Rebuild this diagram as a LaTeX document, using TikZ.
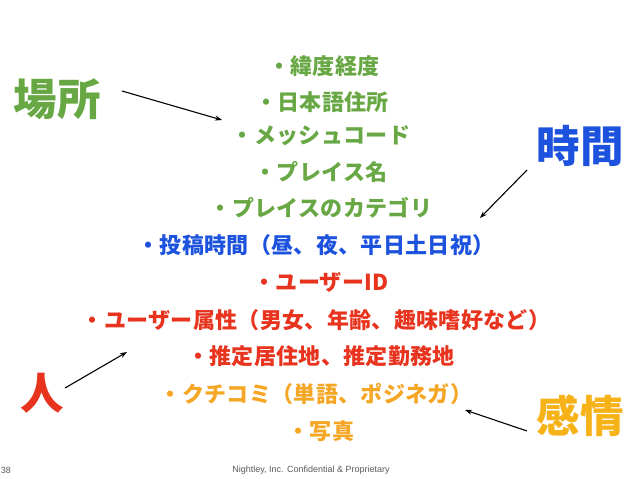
\documentclass[tikz,border=0pt]{standalone}
\usepackage{fontspec}
\newfontfamily\jp{Noto Sans CJK JP}
\newfontfamily\ft{Liberation Sans}
\usetikzlibrary{arrows.meta}
\definecolor{cgreen}{RGB}{104,168,68}
\definecolor{cblue}{RGB}{28,82,222}
\definecolor{cred}{RGB}{232,52,30}
\definecolor{corange}{RGB}{244,166,36}
\definecolor{cyellow}{RGB}{246,178,22}
\definecolor{cgray}{RGB}{90,90,90}
\tikzset{
  item/.style={inner sep=0pt, font=\jp\bfseries\fontsize{22}{23}\selectfont\addfontfeatures{LetterSpace=1.5}, anchor=center},
  big/.style={inner sep=0pt, font=\jp\bfseries\fontsize{43.5}{44}\selectfont, anchor=center},
  conn/.style={-{Stealth[length=7pt,width=5pt]}, line width=1.1pt, black},
  foot/.style={inner sep=0pt, font=\ft\fontsize{9}{10}\selectfont, text=cgray}
}
\begin{document}
\begin{tikzpicture}[x=1pt,y=-1pt]
\useasboundingbox (0,0) rectangle (638,479);
\fill[white] (0,0) rectangle (638,479);
% items
\node[item, text=cgreen] (i1) at (324,66) {・緯度経度};
\node[item, text=cgreen] (i2) at (322,102) {・日本語住所};
\node[item, text=cgreen] (i3) at (321,136) {・メッシュコード};
\node[item, text=cgreen] (i4) at (321,172) {・プレイス名};
\node[item, text=cgreen] (i5) at (321,208) {・プレイスのカテゴリ};
\node[item, text=cblue] (i6) at (316,245) {・投稿時間（昼、夜、平日土日祝）};
\node[item, text=cred] (i7) at (321,282) {・ユーザーID};
\node[item, text=cred] (i8) at (316,320) {・ユーザー属性（男女、年齢、趣味嗜好など）};
\node[item, text=cred] (i9) at (321,356) {・推定居住地、推定勤務地};
\node[item, text=corange] (i10) at (316,394) {・クチコミ（単語、ポジネガ）};
\node[item, text=corange] (i11) at (321,431) {・写真};
% big labels
\node[big, text=cgreen] (basho) at (57,99) {場所};
\node[big, text=cblue] (jikan) at (580,146) {時間};
\node[big, text=cred] (hito) at (42,393) {人};
\node[big, text=cyellow] (kanjo) at (580,416) {感情};
% arrow ends
\coordinate (a1s) at (122,91);
\coordinate (a1e) at (222,120);
\coordinate (a2s) at (527,170);
\coordinate (a2e) at (480,218);
\coordinate (a3s) at (65,388);
\coordinate (a3e) at (127,352);
\coordinate (a4s) at (527,431);
\coordinate (a4e) at (465,410);
\draw[conn] (a1s) -- (a1e);
\draw[conn] (a2s) -- (a2e);
\draw[conn] (a3s) -- (a3e);
\draw[conn] (a4s) -- (a4e);
% footer
\node[foot] (pg) at (6,470) {38};
\node[foot] (conf) at (311,470) {Nightley, Inc. Confidential \& Proprietary};
\end{tikzpicture}
\end{document}
